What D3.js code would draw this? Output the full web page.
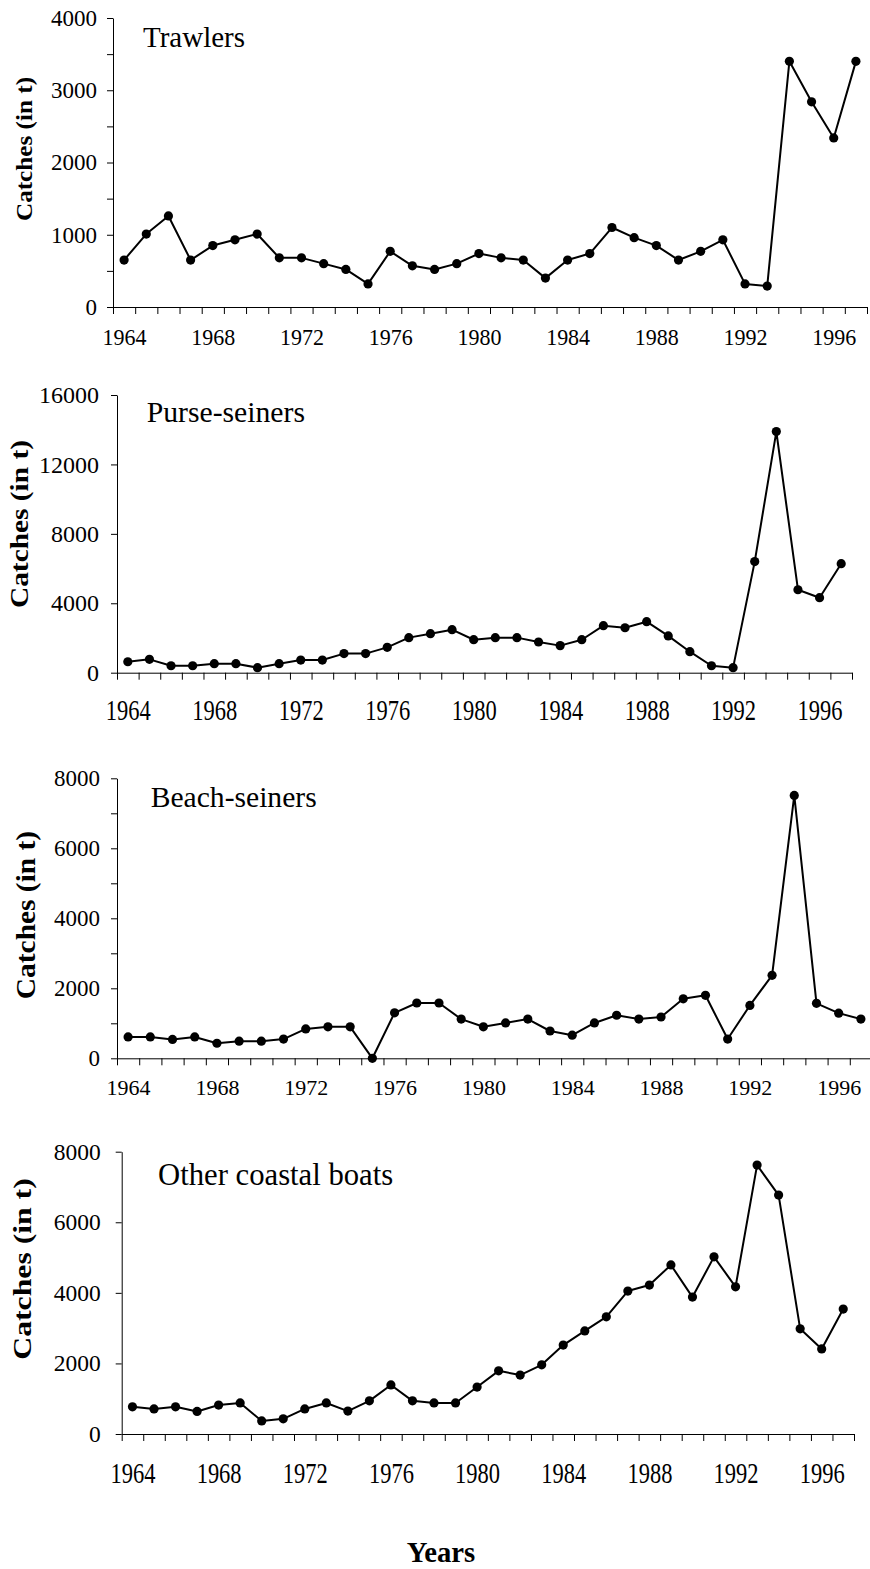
<!DOCTYPE html>
<html><head><meta charset="utf-8">
<script src="https://cdn.jsdelivr.net/npm/d3@7"></script>
<style>
html,body{margin:0;padding:0;background:#fff;}
svg{display:block;font-family:"Liberation Serif","Times New Roman",serif;}
</style></head><body>
<svg id="chart" width="870" height="1569"></svg>
<script>
// ---------- data ----------
const years = [1964,1965,1966,1967,1968,1969,1970,1971,1972,1973,1974,1975,1976,1977,1978,1979,1980,
               1981,1982,1983,1984,1985,1986,1987,1988,1989,1990,1991,1992,1993,1994,1995,1996,1997];
const xLabelYears = [1964,1968,1972,1976,1980,1984,1988,1992,1996];

const trawlers = [650,1010,1260,650,850,930,1010,680,680,600,520,320,770,570,520,600,740,
                  680,650,400,650,740,1100,960,850,650,770,930,320,290,3400,2840,2340,3400];
const purseSeiners = [630,770,400,400,520,520,290,520,730,730,1100,1100,1460,2020,2250,2480,1900,
                  2020,2020,1770,1560,1900,2710,2590,2940,2120,1210,400,290,6400,13890,4780,4320,6280];
const beachSeiners = [610,610,540,610,430,490,490,550,840,900,900,0,1300,1580,1580,1120,900,
                  1010,1120,780,660,1010,1230,1120,1180,1700,1800,550,1510,2370,7510,1570,1290,1120];
const otherCoastal = [770,710,770,640,820,880,370,430,710,880,650,940,1390,940,880,880,1330,
                  1790,1670,1960,2520,2920,3320,4050,4220,4790,3880,5020,4170,7620,6770,2980,2410,3540];

const trawlerTicks = [0,500,1000,1500,2000,2500,3000,3500,4000];
const trawlerLabels = [0,1000,2000,3000,4000];
const purseTicks = [0,4000,8000,12000,16000];
const purseLabels = [0,4000,8000,12000,16000];
const beachTicks = [0,1000,2000,3000,4000,5000,6000,7000,8000];
const beachLabels = [0,2000,4000,6000,8000];
const otherTicks = [0,2000,4000,6000,8000];
const otherLabels = [0,2000,4000,6000,8000];

const titles = ["Trawlers","Purse-seiners","Beach-seiners","Other coastal boats"];
const yTitle = "Catches (in t)";
const xTitle = "Years";

// ---------- layout ----------
const panels = [
  {title:titles[0], values:trawlers, ticks:trawlerTicks, labels:trawlerLabels,
   left:113, right:867, top:18, bottom:307,
   titleX:143, titleY:46.7, titleFs:29,
   yTitleX:26, yTitleY:149, yTitleFs:24, yTitleSx:1.05,
   yFs:23, yPad:10, xFs:22, xBase:38, xSy:1.08},
  {title:titles[1], values:purseSeiners, ticks:purseTicks, labels:purseLabels,
   left:117, right:852, top:395, bottom:672.7,
   titleX:146.7, titleY:421.7, titleFs:29.7,
   yTitleX:22, yTitleY:524, yTitleFs:26, yTitleSx:1.13,
   yFs:24, yPad:12, xFs:22.5, xBase:47, xSy:1.3},
  {title:titles[2], values:beachSeiners, ticks:beachTicks, labels:beachLabels,
   left:117, right:872, top:778.3, bottom:1058.3,
   titleX:150.7, titleY:806.7, titleFs:29.6,
   yTitleX:29, yTitleY:915, yTitleFs:27.5, yTitleSx:1.07,
   yFs:23, yPad:11, xFs:22, xBase:37, xSy:1.0},
  {title:titles[3], values:otherCoastal, ticks:otherTicks, labels:otherLabels,
   left:121.7, right:854, top:1151.7, bottom:1434,
   titleX:158, titleY:1185, titleFs:30.7,
   yTitleX:25, yTitleY:1269, yTitleFs:26, yTitleSx:1.22,
   yFs:23.5, yPad:15, xFs:22.5, xBase:49, xSy:1.3}
];

const svg = d3.select("#chart");
const halfTicks = years.map(d => d - 0.5).concat([years[years.length-1] + 0.5]);

panels.forEach(p => {
  const g = svg.append("g");
  const x = d3.scaleLinear().domain([years[0]-0.5, years[years.length-1]+0.5]).range([p.left, p.right]);
  const y = d3.scaleLinear().domain([0, p.ticks[p.ticks.length-1]]).range([p.bottom, p.top]);

  // x tick marks (between years)
  const xa = g.append("g").attr("transform", `translate(0,${p.bottom})`)
    .call(d3.axisBottom(x).tickValues(halfTicks).tickSize(7).tickSizeOuter(0).tickFormat(""));
  xa.selectAll("path,line").attr("stroke","#000").attr("stroke-width",1);

  // x labels
  const xl = g.append("g").attr("transform", `translate(0,${p.bottom})`)
    .call(d3.axisBottom(x).tickValues(xLabelYears).tickSize(0).tickFormat(d3.format("d")));
  xl.select(".domain").remove();
  xl.selectAll("text")
    .attr("y", 0).attr("dy", null)
    .attr("transform", `translate(0,${p.xBase}) scale(1,${p.xSy})`)
    .attr("fill","#000")
    .style("font-family", '"Liberation Serif","Times New Roman",serif')
    .style("font-size", p.xFs + "px");

  // y axis
  const ya = g.append("g").attr("transform", `translate(${p.left},0)`)
    .call(d3.axisLeft(y).tickValues(p.ticks).tickSize(6).tickSizeOuter(0).tickPadding(p.yPad)
      .tickFormat(d => p.labels.includes(d) ? String(d) : ""));
  ya.selectAll("path,line").attr("stroke","#000").attr("stroke-width",1);
  ya.selectAll("text")
    .attr("fill","#000")
    .style("font-family", '"Liberation Serif","Times New Roman",serif')
    .style("font-size", p.yFs + "px");

  // series
  const pts = years.map((yr, i) => ({year: yr, value: p.values[i]}));
  g.append("path").datum(pts)
    .attr("fill","none").attr("stroke","#000").attr("stroke-width",2).attr("stroke-linejoin","round")
    .attr("d", d3.line().x(d => x(d.year)).y(d => y(d.value)));
  g.selectAll("circle.pt").data(pts).enter().append("circle")
    .attr("class","pt")
    .attr("cx", d => x(d.year)).attr("cy", d => y(d.value)).attr("r", 4.6).attr("fill","#000");

  // panel title
  g.append("text").attr("x", p.titleX).attr("y", p.titleY)
    .style("font-size", p.titleFs + "px").attr("fill","#000").text(p.title);

  // y title
  g.append("text")
    .attr("transform", `translate(${p.yTitleX},${p.yTitleY}) rotate(-90) scale(${p.yTitleSx},1)`)
    .attr("text-anchor","middle").attr("dy","0.23em")
    .style("font-size", p.yTitleFs + "px").style("font-weight","bold").attr("fill","#000")
    .text(yTitle);
});

svg.append("text").attr("x", 441).attr("y", 1561.7).attr("text-anchor","middle")
  .style("font-size","28.7px").style("font-weight","bold").attr("fill","#000").text(xTitle);
</script>
</body></html>
